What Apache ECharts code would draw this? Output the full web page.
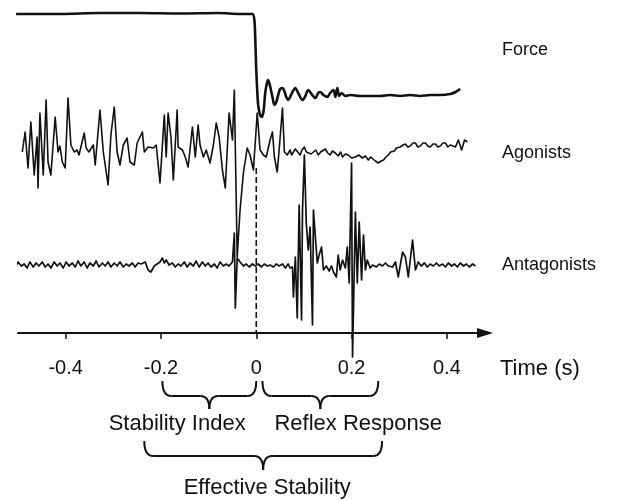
<!DOCTYPE html>
<html>
<head>
<meta charset="utf-8">
<script src="https://cdn.jsdelivr.net/npm/echarts@6/dist/echarts.min.js"></script>
<style>html,body{margin:0;padding:0;background:#fff;}#c{width:625px;height:500px;}</style>
</head>
<body>
<div id="c"></div>
<script>
// ---- data (time in s; force normalised to pre-perturbation level; EMG in arbitrary units) ----
const tickValues = [-0.4, -0.2, 0, 0.2, 0.4];
const traceNames = ['Force', 'Agonists', 'Antagonists'];
const force = [
[-0.504,1.0],[-0.412,1.0],[-0.328,1.012],[-0.244,1.012],[-0.160,1.006],[-0.080,1.012],[-0.034,1.0],[-0.008,1.0],
[-0.004,0.926],[-0.002,0.679],[0,0.309],[0.002,0.062],[0.004,-0.123],[0.008,-0.247],[0.011,-0.272],[0.015,-0.210],
[0.019,0.037],[0.023,0.160],[0.025,0.185],[0.029,0.111],[0.034,-0.025],[0.038,-0.123],[0.042,-0.086],[0.046,0],
[0.050,0.074],[0.055,0.086],[0.059,0.049],[0.063,-0.025],[0.067,-0.062],[0.071,-0.025],[0.076,0.037],[0.082,0.086],
[0.088,0.025],[0.097,-0.062],[0.103,-0.012],[0.109,0.062],[0.116,0.012],[0.124,-0.037],[0.130,0.025],[0.134,0.037],
[0.141,0],[0.149,-0.025],[0.155,0.025],[0.162,0.062],[0.166,-0.025],[0.170,0.086],[0.174,-0.012],[0.179,0.025],
[0.187,-0.012],[0.197,0],[0.218,-0.012],[0.239,-0.012],[0.260,-0.012],[0.281,0],[0.302,-0.012],[0.323,0],
[0.344,-0.012],[0.365,0],[0.386,0],[0.407,0.012],[0.418,0.037],[0.428,0.074]
];
const agonists = [
[-0.491,0],[-0.485,2.0],[-0.479,-1.6],[-0.473,3.0],[-0.466,-2.3],[-0.460,1.5],[-0.458,-3.6],[-0.454,3.9],[-0.447,-2.3],
[-0.441,5.2],[-0.437,-1.0],[-0.431,-2.3],[-0.422,3.5],[-0.416,0],[-0.412,0.6],[-0.407,-1.0],[-0.401,-1.6],[-0.395,5.4],
[-0.389,0.7],[-0.382,0],[-0.376,0.2],[-0.372,-0.3],[-0.361,1.9],[-0.357,0.4],[-0.351,0],[-0.342,0.7],[-0.338,-1.3],
[-0.328,4.2],[-0.321,0],[-0.311,-3.3],[-0.305,1.7],[-0.298,4.5],[-0.292,0],[-0.286,-1.3],[-0.279,0.7],[-0.271,1.4],
[-0.265,-1.0],[-0.256,-1.3],[-0.250,0.9],[-0.239,2.0],[-0.235,0],[-0.227,0.5],[-0.216,0.4],[-0.210,0.7],[-0.202,-3.1],
[-0.193,3.7],[-0.189,-0.5],[-0.185,3.9],[-0.179,1.5],[-0.174,-2.8],[-0.166,4.2],[-0.164,0.5],[-0.155,0.2],[-0.149,-0.5],
[-0.143,-1.5],[-0.134,2.5],[-0.128,-0.5],[-0.122,2.7],[-0.118,0.7],[-0.111,-0.5],[-0.105,0.2],[-0.097,-1.1],[-0.090,0.7],
[-0.084,2.9],[-0.078,1.5],[-0.071,-1.8],[-0.065,-3.6],[-0.057,3.9],[-0.050,1.2],[-0.046,6.2],[-0.040,-10.5],[-0.034,-5.8],
[-0.027,-2.1],[-0.019,0.4],[-0.013,-0.3],[-0.006,-1.8],[0.002,3.9],[0.008,0.2],[0.015,-0.3],[0.021,-0.5],[0.029,1.2],
[0.034,2.0],[0.038,-0.5],[0.044,-2.0],[0.048,0.2],[0.055,4.4],[0.059,0],[0.065,-0.3],[0.071,0.2],[0.074,-0.3],[0.078,-0.1],
[0.082,0.3],[0.086,0.4],[0.092,-0.3],[0.096,0.2],[0.101,0.5],[0.105,0],[0.109,0.2],[0.115,-0.2],[0.120,0],[0.125,0.2],
[0.130,-0.3],[0.135,0],[0.139,0.2],[0.145,0.3],[0.150,-0.1],[0.155,-0.3],[0.160,0.1],[0.166,-0.1],[0.172,-0.4],[0.177,0],
[0.181,-0.5],[0.187,-0.2],[0.193,-0.3],[0.200,-0.6],[0.208,-0.5],[0.215,-0.3],[0.223,-0.6],[0.229,-0.4],[0.235,-0.8],
[0.240,-0.5],[0.244,-0.6],[0.250,-0.9],[0.256,-1.1],[0.262,-0.9],[0.267,-0.8],[0.272,-0.5],[0.277,-0.3],[0.282,0],
[0.286,0.2],[0.290,0.1],[0.294,0.4],[0.298,0.3],[0.302,0.5],[0.308,0.7],[0.313,0.8],[0.318,0.5],[0.323,0.6],[0.329,0.9],
[0.334,0.9],[0.339,0.5],[0.344,0.6],[0.350,0.9],[0.355,0.9],[0.360,0.6],[0.365,0.5],[0.371,0.8],[0.376,0.8],[0.381,0.5],
[0.386,0.6],[0.392,0.9],[0.397,0.9],[0.402,0.5],[0.407,0.7],[0.413,0.6],[0.418,0.5],[0.424,1.2],[0.431,0.2],[0.437,1.2],
[0.443,1.0]
];
const antagonists = [
[-0.512,0.1],[-0.506,-0.3],[-0.500,0.3],[-0.493,-0.1],[-0.487,0.1],[-0.481,-0.3],[-0.475,0.3],[-0.468,-0.2],[-0.462,0.2],
[-0.456,-0.1],[-0.449,0.3],[-0.443,-0.2],[-0.437,0.1],[-0.431,-0.3],[-0.424,0.3],[-0.418,-0.1],[-0.412,0.2],[-0.405,-0.3],
[-0.399,0.3],[-0.393,-0.1],[-0.386,0.2],[-0.380,-0.2],[-0.374,0.4],[-0.368,-0.1],[-0.361,0.3],[-0.355,-0.3],[-0.349,0.2],
[-0.342,-0.1],[-0.336,0.4],[-0.330,-0.2],[-0.323,0.2],[-0.317,-0.1],[-0.311,0.3],[-0.305,-0.2],[-0.298,0.2],[-0.292,-0.1],
[-0.286,0.3],[-0.279,-0.2],[-0.273,0.1],[-0.267,-0.1],[-0.260,0.2],[-0.254,-0.2],[-0.248,0.2],[-0.242,0.1],[-0.233,0.3],
[-0.227,-0.5],[-0.221,-0.7],[-0.214,-0.1],[-0.208,0.1],[-0.202,0.3],[-0.197,0.7],[-0.193,0.2],[-0.189,0.5],[-0.183,0],
[-0.176,0.2],[-0.170,-0.2],[-0.164,0.1],[-0.158,-0.1],[-0.151,0.3],[-0.145,-0.2],[-0.139,0.2],[-0.132,-0.1],[-0.126,0.4],
[-0.120,-0.2],[-0.113,0.3],[-0.107,-0.1],[-0.101,0.2],[-0.095,-0.2],[-0.088,0.1],[-0.082,-0.3],[-0.076,0.3],[-0.069,-0.1],
[-0.063,0.1],[-0.057,-0.1],[-0.050,0.3],[-0.046,3.2],[-0.044,-4.3],[-0.040,0.7],[-0.034,0.3],[-0.027,-0.1],[-0.021,0.1],
[-0.015,-0.2],[-0.008,0.1],[-0.002,-0.1],[0.004,0.1],[0.011,-0.2],[0.017,0.1],[0.023,-0.1],[0.029,0],[0.036,-0.2],
[0.042,0.1],[0.048,-0.1],[0.055,0.1],[0.061,-0.3],[0.067,0.1],[0.071,-0.3],[0.076,-0.2],[0.078,-3.2],[0.082,0.8],
[0.086,-5.3],[0.090,6.0],[0.095,-5.5],[0.097,5.5],[0.101,11.0],[0.105,4.2],[0.109,1.5],[0.113,3.8],[0.118,-6.0],
[0.120,5.5],[0.124,2.8],[0.128,0.2],[0.132,1.0],[0.137,1.8],[0.141,-0.5],[0.147,-0.1],[0.153,-0.6],[0.158,-0.1],
[0.162,-0.7],[0.168,-1.2],[0.172,1.0],[0.176,-0.5],[0.181,0.5],[0.187,-0.3],[0.191,1.8],[0.195,-1.8],[0.200,10.2],
[0.202,-9.2],[0.208,5.3],[0.212,-1.8],[0.216,4.3],[0.221,-1.5],[0.225,3.0],[0.229,-0.5],[0.233,0.5],[0.239,-0.3],
[0.244,0],[0.252,-0.2],[0.258,0.1],[0.265,-0.1],[0.271,0.2],[0.277,-0.1],[0.286,-0.2],[0.292,0.3],[0.298,-1.2],
[0.307,1.3],[0.313,0.8],[0.319,-1.2],[0.323,-1.3],[0.328,2.5],[0.334,-0.5],[0.340,0.3],[0.346,-0.1],[0.353,0.2],
[0.359,-0.2],[0.365,0.1],[0.372,-0.1],[0.378,0.2],[0.384,-0.1],[0.391,0.1],[0.397,-0.2],[0.403,0.2],[0.410,-0.1],
[0.416,0.1],[0.422,-0.2],[0.428,0.2],[0.435,-0.1],[0.441,0.1],[0.447,-0.2],[0.454,0.1],[0.460,-0.1]
];
const onsetLine = [[0, -1.6], [0, -18.1]];
const braces = [
  {from: -0.197, to: 0, label: 'Stability Index', labelAt: -0.166, row: 0},
  {from: 0.013, to: 0.256, label: 'Reflex Response', labelAt: 0.214, row: 0},
  {from: -0.235, to: 0.264, label: 'Effective Stability', labelAt: 0.023, row: 1}
];

const FONT = '"Liberation Sans", Arial, Helvetica, sans-serif';
const INK = '#111';
const chart = echarts.init(document.getElementById('c'), null, {renderer: 'canvas'});

function lineSeries(name, data, yIdx, width, extra) {
  return Object.assign({
    name: name, type: 'line', data: data, yAxisIndex: yIdx,
    showSymbol: false, symbol: 'none', clip: false, animation: false, silent: true,
    lineStyle: {color: INK, width: width, join: 'round'}
  }, extra || {});
}

chart.setOption({
  animation: false,
  backgroundColor: '#fff',
  grid: {left: 18, right: 140, top: 0, bottom: 167, containLabel: false},
  xAxis: {
    type: 'value', min: -0.5, max: 0.48,
    splitLine: {show: false},
    axisLine: {show: true, onZero: false, symbol: ['none', 'triangle'], symbolSize: [10, 16],
      lineStyle: {color: INK, width: 2}},
    axisTick: {show: true, length: 6, customValues: tickValues, lineStyle: {color: INK, width: 1.5}},
    axisLabel: {show: true, customValues: tickValues, margin: 25, color: INK, fontSize: 20, fontFamily: FONT,
      formatter: function (v) { return v === 0 ? '0' : v.toFixed(1); }}
  },
  yAxis: [
    {type: 'value', min: -2.938, max: 1.173, show: false},
    {type: 'value', min: -18.1, max: 15.2, show: false},
    {type: 'value', min: -6.8, max: 26.5, show: false}
  ],
  series: [
    lineSeries(traceNames[0], force, 0, 2.6, {smooth: 0.3}),
    lineSeries(traceNames[1], agonists, 1, 1.6),
    lineSeries(traceNames[2], antagonists, 2, 1.7),
    lineSeries('onset', onsetLine, 1, 1.6, {lineStyle: {color: INK, width: 1.6, type: [6, 3]}})
  ]
});

// annotations (braces placed from their time ranges through the x axis scale)
const px = v => chart.convertToPixel({xAxisIndex: 0}, v);
const rowY = [{top: 381, mid: 396, tip: 409, text: 424}, {top: 441, mid: 456, tip: 470, text: 488}];
const strokeStyle = {fill: null, stroke: INK, lineWidth: 2};
function braceParts(x1, x2, r) {
  const xm = (x1 + x2) / 2, c = 9;
  const q = (ax, ay, cx, cy, bx, by) => ({type: 'bezierCurve', silent: true,
    shape: {x1: ax, y1: ay, x2: bx, y2: by, cpx1: cx, cpy1: cy}, style: strokeStyle});
  const l = (ax, ay, bx, by) => ({type: 'line', silent: true,
    shape: {x1: ax, y1: ay, x2: bx, y2: by}, style: strokeStyle});
  return [
    q(x1, r.top, x1, r.mid, x1 + c, r.mid),
    l(x1 + c, r.mid, xm - c, r.mid),
    q(xm - c, r.mid, xm, r.mid, xm, r.tip),
    q(xm, r.tip, xm, r.mid, xm + c, r.mid),
    l(xm + c, r.mid, x2 - c, r.mid),
    q(x2 - c, r.mid, x2, r.mid, x2, r.top)
  ];
}
const graphics = [];
braces.forEach(function (b) {
  const x1 = px(b.from), x2 = px(b.to), r = rowY[b.row];
  braceParts(x1, x2, r).forEach(g => graphics.push(g));
  graphics.push({type: 'text', x: px(b.labelAt), y: r.text, silent: true,
    style: {text: b.label, fill: INK, font: '22px ' + FONT, textAlign: 'center', textVerticalAlign: 'middle'}});
});
const labelY = [50, 153, 265];
traceNames.forEach(function (n, i) {
  graphics.push({type: 'text', x: 502, y: labelY[i], silent: true,
    style: {text: n, fill: INK, font: '18px ' + FONT, textAlign: 'left', textVerticalAlign: 'middle'}});
});
graphics.push({type: 'text', x: 500, y: 369, silent: true,
  style: {text: 'Time (s)', fill: INK, font: '22px ' + FONT, textAlign: 'left', textVerticalAlign: 'middle'}});
chart.setOption({graphic: graphics});
</script>
</body>
</html>
